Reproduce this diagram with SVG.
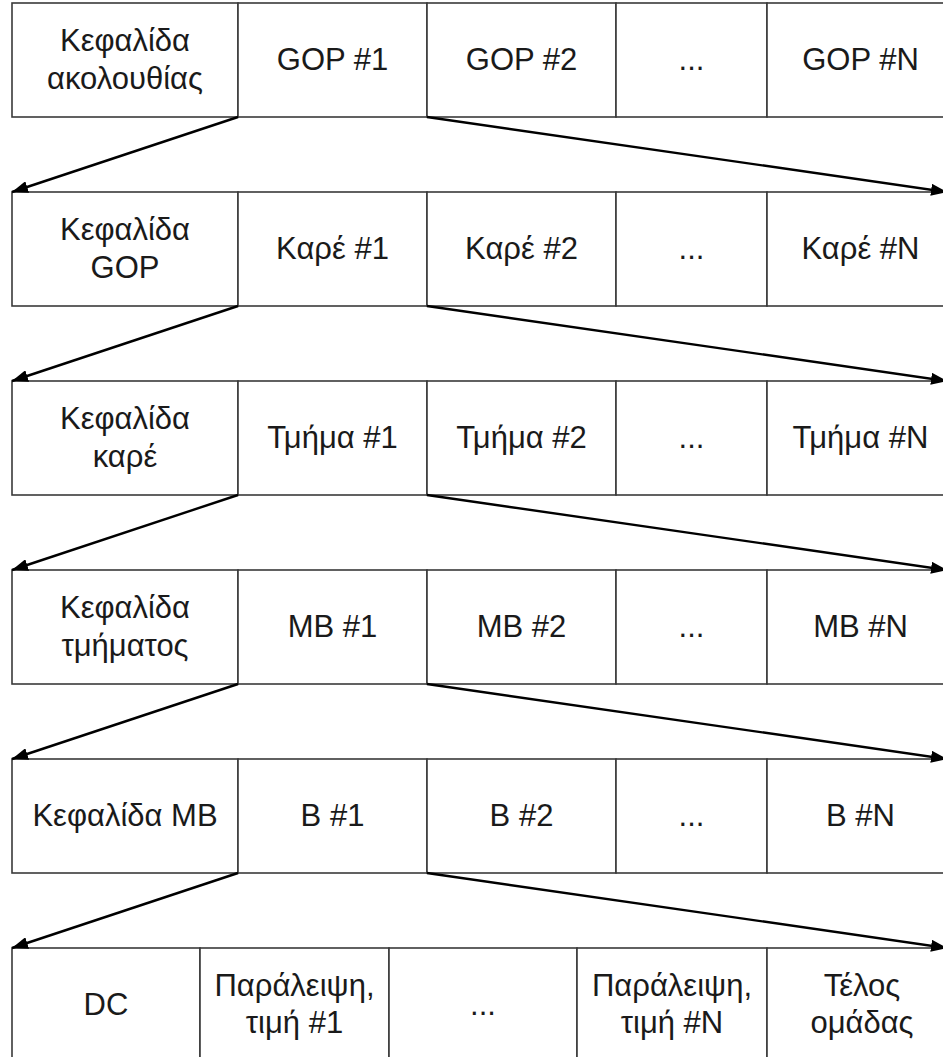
<svg xmlns="http://www.w3.org/2000/svg" width="943" height="1057" viewBox="0 0 943 1057">
<defs>
<style>
.c{fill:#fff;stroke:#3a3a3a;stroke-width:1.6}
.t{font-family:"Liberation Sans",Arial,sans-serif;font-size:31px;fill:#1a1a1a;text-anchor:middle}
.a{fill:none;stroke:#000;stroke-width:2.4;marker-end:url(#ah)}
</style>
<marker id="ah" markerUnits="userSpaceOnUse" viewBox="0 0 16 12" refX="16" refY="6" markerWidth="16" markerHeight="12" orient="auto">
<path d="M0,0 L16,6 L0,12 Z" fill="#000"/>
</marker>
</defs>
<rect width="943" height="1057" fill="#fff"/>

<g id="row1">
<g id="r1c1"><rect class="c" x="12" y="3" width="226" height="114"/><text class="t" x="125" y="51">Κεφαλίδα</text><text class="t" x="125" y="89">ακολουθίας</text></g>
<g id="r1c2"><rect class="c" x="238" y="3" width="189" height="114"/><text class="t" x="332.5" y="70">GOP #1</text></g>
<g id="r1c3"><rect class="c" x="427" y="3" width="189" height="114"/><text class="t" x="521.5" y="70">GOP #2</text></g>
<g id="r1c4"><rect class="c" x="616" y="3" width="151" height="114"/><text class="t" x="691.5" y="70">...</text></g>
<g id="r1c5"><rect class="c" x="767" y="3" width="187" height="114"/><text class="t" x="860.5" y="70">GOP #N</text></g>
</g>

<g id="row2">
<g id="r2c1"><rect class="c" x="12" y="192" width="226" height="114"/><text class="t" x="125" y="240">Κεφαλίδα</text><text class="t" x="125" y="278">GOP</text></g>
<g id="r2c2"><rect class="c" x="238" y="192" width="189" height="114"/><text class="t" x="332.5" y="259">Καρέ #1</text></g>
<g id="r2c3"><rect class="c" x="427" y="192" width="189" height="114"/><text class="t" x="521.5" y="259">Καρέ #2</text></g>
<g id="r2c4"><rect class="c" x="616" y="192" width="151" height="114"/><text class="t" x="691.5" y="259">...</text></g>
<g id="r2c5"><rect class="c" x="767" y="192" width="187" height="114"/><text class="t" x="860.5" y="259">Καρέ #N</text></g>
</g>

<g id="row3">
<g id="r3c1"><rect class="c" x="12" y="381" width="226" height="114"/><text class="t" x="125" y="429">Κεφαλίδα</text><text class="t" x="125" y="467">καρέ</text></g>
<g id="r3c2"><rect class="c" x="238" y="381" width="189" height="114"/><text class="t" x="332.5" y="448">Τμήμα #1</text></g>
<g id="r3c3"><rect class="c" x="427" y="381" width="189" height="114"/><text class="t" x="521.5" y="448">Τμήμα #2</text></g>
<g id="r3c4"><rect class="c" x="616" y="381" width="151" height="114"/><text class="t" x="691.5" y="448">...</text></g>
<g id="r3c5"><rect class="c" x="767" y="381" width="187" height="114"/><text class="t" x="860.5" y="448">Τμήμα #N</text></g>
</g>

<g id="row4">
<g id="r4c1"><rect class="c" x="12" y="570" width="226" height="114"/><text class="t" x="125" y="618">Κεφαλίδα</text><text class="t" x="125" y="656">τμήματος</text></g>
<g id="r4c2"><rect class="c" x="238" y="570" width="189" height="114"/><text class="t" x="332.5" y="637">MB #1</text></g>
<g id="r4c3"><rect class="c" x="427" y="570" width="189" height="114"/><text class="t" x="521.5" y="637">MB #2</text></g>
<g id="r4c4"><rect class="c" x="616" y="570" width="151" height="114"/><text class="t" x="691.5" y="637">...</text></g>
<g id="r4c5"><rect class="c" x="767" y="570" width="187" height="114"/><text class="t" x="860.5" y="637">MB #N</text></g>
</g>

<g id="row5">
<g id="r5c1"><rect class="c" x="12" y="759" width="226" height="114"/><text class="t" x="125" y="826">Κεφαλίδα MB</text></g>
<g id="r5c2"><rect class="c" x="238" y="759" width="189" height="114"/><text class="t" x="332.5" y="826">B #1</text></g>
<g id="r5c3"><rect class="c" x="427" y="759" width="189" height="114"/><text class="t" x="521.5" y="826">B #2</text></g>
<g id="r5c4"><rect class="c" x="616" y="759" width="151" height="114"/><text class="t" x="691.5" y="826">...</text></g>
<g id="r5c5"><rect class="c" x="767" y="759" width="187" height="114"/><text class="t" x="860.5" y="826">B #N</text></g>
</g>

<g id="row6">
<g id="r6c1"><rect class="c" x="12" y="948" width="188" height="114"/><text class="t" x="106" y="1015">DC</text></g>
<g id="r6c2"><rect class="c" x="200" y="948" width="189" height="114"/><text class="t" x="294.5" y="996">Παράλειψη,</text><text class="t" x="294.5" y="1033">τιμή #1</text></g>
<g id="r6c3"><rect class="c" x="389" y="948" width="188" height="114"/><text class="t" x="483" y="1015">...</text></g>
<g id="r6c4"><rect class="c" x="577" y="948" width="190" height="114"/><text class="t" x="672" y="996">Παράλειψη,</text><text class="t" x="672" y="1033">τιμή #N</text></g>
<g id="r6c5"><rect class="c" x="767" y="948" width="190" height="114"/><text class="t" x="862" y="996">Τέλος</text><text class="t" x="862" y="1033">ομάδας</text></g>
</g>

<g id="connectors">
<line class="a" x1="238" y1="117" x2="12" y2="192"/>
<line class="a" x1="427" y1="117" x2="947" y2="192"/>
<line class="a" x1="238" y1="306" x2="12" y2="381"/>
<line class="a" x1="427" y1="306" x2="947" y2="381"/>
<line class="a" x1="238" y1="495" x2="12" y2="570"/>
<line class="a" x1="427" y1="495" x2="947" y2="570"/>
<line class="a" x1="238" y1="684" x2="12" y2="759"/>
<line class="a" x1="427" y1="684" x2="947" y2="759"/>
<line class="a" x1="238" y1="873" x2="12" y2="948"/>
<line class="a" x1="427" y1="873" x2="947" y2="948"/>
</g>
</svg>
